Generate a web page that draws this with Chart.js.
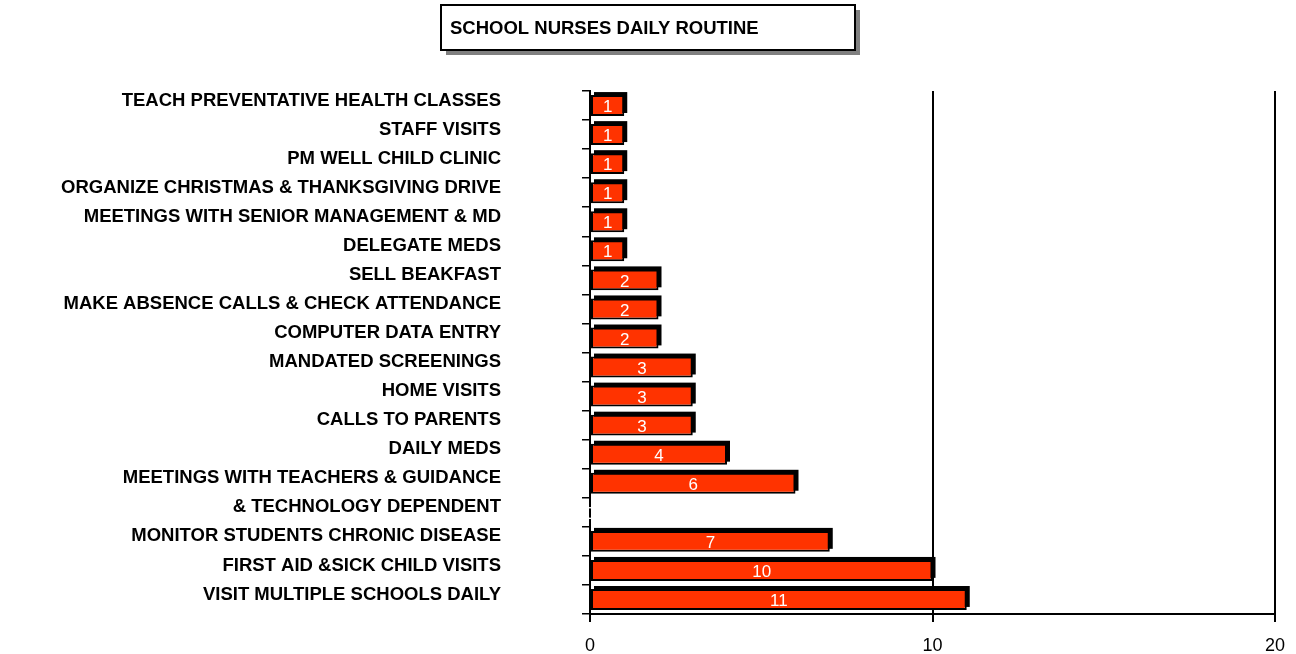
<!DOCTYPE html>
<html>
<head>
<meta charset="utf-8">
<script src="https://cdn.jsdelivr.net/npm/chart.js@4.4.1/dist/chart.umd.min.js"></script>
<style>
  html, body { margin: 0; padding: 0; background: #ffffff; }
  #c { display: block; width: 1296px; height: 654px; }
</style>
</head>
<body>
<canvas id="c" width="1296" height="654"></canvas>
<script>
const chartTitle = "SCHOOL NURSES DAILY ROUTINE";
const categories = [
  "TEACH PREVENTATIVE HEALTH CLASSES",
  "STAFF VISITS",
  "PM WELL CHILD CLINIC",
  "ORGANIZE CHRISTMAS & THANKSGIVING DRIVE",
  "MEETINGS WITH SENIOR MANAGEMENT & MD",
  "DELEGATE MEDS",
  "SELL BEAKFAST",
  "MAKE ABSENCE CALLS & CHECK ATTENDANCE",
  "COMPUTER DATA ENTRY",
  "MANDATED SCREENINGS",
  "HOME VISITS",
  "CALLS TO PARENTS",
  "DAILY MEDS",
  "MEETINGS WITH TEACHERS & GUIDANCE",
  "& TECHNOLOGY DEPENDENT",
  "MONITOR STUDENTS CHRONIC DISEASE",
  "FIRST AID &SICK CHILD VISITS",
  "VISIT MULTIPLE SCHOOLS DAILY"
];
const values = [1, 1, 1, 1, 1, 1, 2, 2, 2, 3, 3, 3, 4, 6, 0, 7, 10, 11];
const xTicks = [0, 10, 20];

const FONT = "'Liberation Sans', Arial, sans-serif";

const titleBoxPlugin = {
  id: 'titleBox',
  afterDraw(chart) {
    const ctx = chart.ctx;
    const w = 414, h = 45;
    const left = Math.round(chart.width / 2 - w / 2), top = 5;
    ctx.save();
    ctx.fillStyle = '#808080';
    ctx.fillRect(left + 5, top + 5, w, h);
    ctx.fillStyle = '#ffffff';
    ctx.fillRect(left, top, w, h);
    ctx.strokeStyle = '#000000';
    ctx.lineWidth = 2;
    ctx.strokeRect(left, top, w, h);
    ctx.fillStyle = '#000000';
    ctx.font = "bold 18.5px " + FONT;
    ctx.textAlign = 'left';
    ctx.textBaseline = 'middle';
    ctx.fillText(chartTitle, left + 9, top + h / 2 + 1);
    ctx.restore();
  }
};

const barShadowPlugin = {
  id: 'barShadow',
  beforeDatasetsDraw(chart) {
    const ctx = chart.ctx;
    ctx.save();
    ctx.fillStyle = '#000000';
    chart.getDatasetMeta(0).data.forEach(el => {
      const p = el.getProps(['x', 'y', 'base', 'height'], true);
      const l = Math.min(p.x, p.base), r = Math.max(p.x, p.base);
      if (r - l < 0.5) return;
      ctx.fillRect(l + 3, p.y - p.height / 2 - 3, r - l, p.height);
    });
    ctx.restore();
  },
  afterDatasetsDraw(chart) {
    const ctx = chart.ctx;
    ctx.save();
    ctx.fillStyle = '#ffffff';
    ctx.font = "17px " + FONT;
    ctx.textAlign = 'center';
    ctx.textBaseline = 'middle';
    chart.getDatasetMeta(0).data.forEach((el, i) => {
      const p = el.getProps(['x', 'y', 'base'], true);
      ctx.fillText(String(values[i]), (p.x + p.base) / 2, p.y + 2);
    });
    ctx.restore();
  }
};

new Chart(document.getElementById('c'), {
  type: 'bar',
  data: {
    labels: categories,
    datasets: [{
      data: values,
      backgroundColor: '#FF3300',
      borderColor: '#000000',
      borderWidth: 2,
      borderSkipped: false,
      barPercentage: 0.72,
      categoryPercentage: 1.0
    }]
  },
  options: {
    indexAxis: 'y',
    responsive: false,
    maintainAspectRatio: false,
    devicePixelRatio: 1,
    animation: false,
    layout: { padding: { top: 91, right: 21, bottom: 0, left: 0 } },
    plugins: {
      legend: { display: false },
      title: { display: false },
      tooltip: { enabled: false }
    },
    scales: {
      x: {
        type: 'linear',
        min: 0,
        max: 20,
        afterFit(scale) {
          scale.height = 40;
          scale.paddingLeft = 0;
          scale.paddingRight = 0;
        },
        afterBuildTicks(scale) { scale.ticks = xTicks.map(v => ({ value: v })); },
        ticks: {
          color: '#000000',
          font: { family: FONT, size: 18 },
          padding: 13,
          maxRotation: 0
        },
        grid: {
          color: '#000000',
          lineWidth: 2,
          tickLength: 8,
          drawOnChartArea: true
        },
        border: { display: true, color: '#000000', width: 2 }
      },
      y: {
        afterFit(scale) {
          scale.width = 590;
          scale.paddingTop = 0;
          scale.paddingBottom = 0;
        },
        ticks: {
          color: '#000000',
          font: { family: FONT, size: 18.5, weight: 'bold' },
          padding: 81,
          labelOffset: -5,
          autoSkip: false
        },
        grid: {
          color: '#000000',
          lineWidth: 1.5,
          tickLength: 8,
          drawOnChartArea: false,
          offset: true
        },
        border: { display: true, color: '#000000', width: 2 }
      }
    }
  },
  plugins: [barShadowPlugin, titleBoxPlugin]
});
</script>
</body>
</html>
